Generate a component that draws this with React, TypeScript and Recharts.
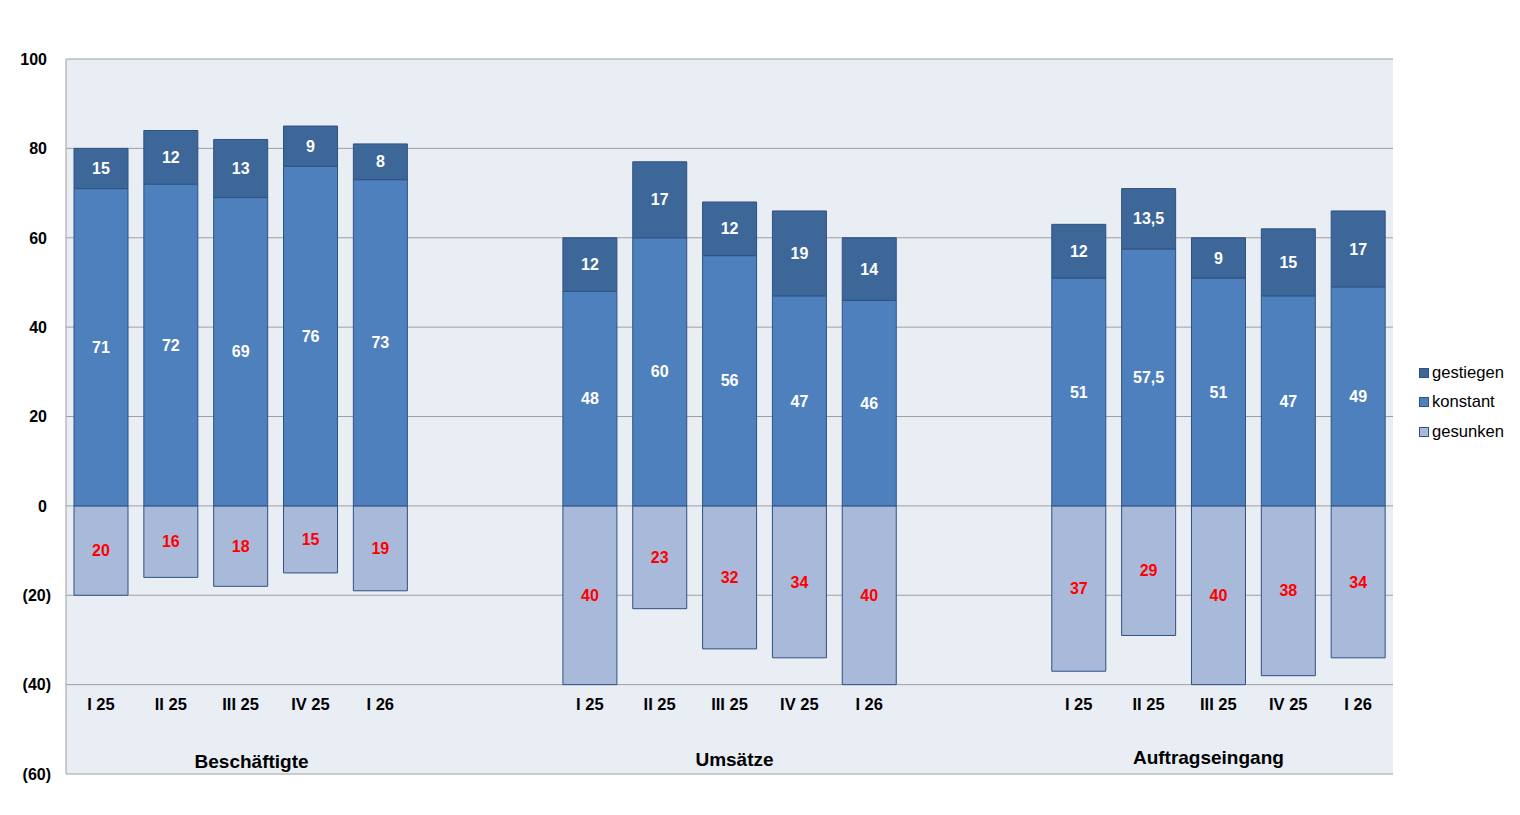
import React from "react";
import { BarChart, Bar, XAxis, YAxis, CartesianGrid, Legend, LabelList } from "recharts";

const periods = ["I 25", "II 25", "III 25", "IV 25", "I 26"];
const groupNames = ["Beschäftigte", "Umsätze", "Auftragseingang"];

// drawn bar heights
const gestiegenValues = [
  [9, 12, 13, 9, 8],
  [12, 17, 12, 19, 14],
  [12, 13.5, 9, 15, 17],
];
// printed labels
const gestiegenLabels = [
  [15, 12, 13, 9, 8],
  [12, 17, 12, 19, 14],
  [12, 13.5, 9, 15, 17],
];
const konstantValues = [
  [71, 72, 69, 76, 73],
  [48, 60, 56, 47, 46],
  [51, 57.5, 51, 47, 49],
];
const gesunkenValues = [
  [20, 16, 18, 15, 19],
  [40, 23, 32, 34, 40],
  [37, 29, 40, 38, 34],
];
const yTicks = [-60, -40, -20, 0, 20, 40, 60, 80, 100];
const gapCount = 2;

const fmt = (v: number) => String(v).replace(".", ",");

type Row = {
  period: string;
  group: number | null;
  gestiegen: number | null;
  konstant: number | null;
  gesunken: number | null;
  gestiegenText: string;
  konstantText: string;
  gesunkenText: string;
};

const rows: Row[] = [];
groupNames.forEach((g, gi) => {
  periods.forEach((p, pi) => {
    rows.push({
      period: p,
      group: pi === 2 ? gi : null,
      gestiegen: gestiegenValues[gi][pi],
      konstant: konstantValues[gi][pi],
      gesunken: -gesunkenValues[gi][pi],
      gestiegenText: fmt(gestiegenLabels[gi][pi]),
      konstantText: fmt(konstantValues[gi][pi]),
      gesunkenText: fmt(gesunkenValues[gi][pi]),
    });
  });
  if (gi < groupNames.length - 1) {
    for (let k = 0; k < gapCount; k++) {
      rows.push({
        period: "",
        group: null,
        gestiegen: null,
        konstant: null,
        gesunken: null,
        gestiegenText: "",
        konstantText: "",
        gesunkenText: "",
      });
    }
  }
});

const FONT = "'Liberation Sans', Arial, sans-serif";
const C_UP = "#3d6699";
const C_SAME = "#4e80bd";
const C_DOWN = "#a9b9d9";
const C_STROKE = "#2f5282";

// fine placement of the group titles (text boxes in the original)
const GROUP_DX = [11, 5, -10];
const GROUP_DY = [-6, -8, -10];

const XTick = (props: any) => {
  const { x, y, index } = props;
  const row = rows[index];
  if (!row) return null;
  return (
    <g>
      {row.period && (
        <text x={x} y={y - 64} textAnchor="middle" fontFamily={FONT} fontWeight="bold" fontSize={16.5} fill="#000">
          {row.period}
        </text>
      )}
      {row.group !== null && (
        <text
          x={x + GROUP_DX[row.group]}
          y={y + GROUP_DY[row.group]}
          textAnchor="middle"
          fontFamily={FONT}
          fontWeight="bold"
          fontSize={19}
          fill="#000"
        >
          {groupNames[row.group]}
        </text>
      )}
    </g>
  );
};

const YTick = (props: any) => {
  const { x, y, payload } = props;
  const v = payload.value as number;
  const neg = v < 0;
  const txt = neg ? `(${Math.abs(v)})` : String(v);
  return (
    <text x={neg ? x - 15 : x - 19} y={y} dy="0.36em" textAnchor="end" fontFamily={FONT} fontWeight="bold" fontSize={16} fill="#000">
      {txt}
    </text>
  );
};

const legendItems = [
  { name: "gestiegen", color: C_UP },
  { name: "konstant", color: C_SAME },
  { name: "gesunken", color: C_DOWN },
];

const LegendContent = () => (
  <div style={{ fontFamily: FONT, fontSize: 16.6, color: "#000" }}>
    {legendItems.map((it) => (
      <div key={it.name} style={{ display: "flex", alignItems: "center", height: 29.5 }}>
        <span
          style={{
            display: "inline-block",
            width: 8,
            height: 8,
            background: it.color,
            border: `1px solid ${C_STROKE}`,
            marginRight: 3,
          }}
        />
        <span>{it.name}</span>
      </div>
    ))}
  </div>
);

export default function App() {
  return (
    <div style={{ position: "absolute", left: 0, top: 0, width: 1520, height: 815, background: "#fff" }}>
      <BarChart
        width={1520}
        height={815}
        data={rows}
        stackOffset="sign"
        margin={{ top: 59, right: 127, bottom: 40, left: 0 }}
        barSize={54}
      >
        <CartesianGrid vertical={false} stroke="#a0a0a0" fill="#e9edf4" />
        <XAxis
          dataKey="period"
          interval={0}
          height={1}
          tickSize={0}
          tickMargin={0}
          axisLine={false}
          tickLine={false}
          tick={<XTick />}
        />
        <YAxis
          width={66}
          domain={[-60, 100]}
          ticks={yTicks}
          type="number"
          allowDataOverflow
          tickSize={0}
          tickMargin={0}
          axisLine={{ stroke: "#a0a0a0" }}
          tickLine={false}
          tick={<YTick />}
        />
        <Legend
          layout="vertical"
          align="center"
          verticalAlign="middle"
          content={<LegendContent />}
          wrapperStyle={{ left: 1419, top: 358, width: 110 }}
        />
        <Bar dataKey="gesunken" stackId="s" fill={C_DOWN} stroke={C_STROKE} strokeWidth={1} isAnimationActive={false}>
          <LabelList dataKey="gesunkenText" position="center" fill="#ff0000" fontFamily={FONT} fontWeight="bold" fontSize={16} />
        </Bar>
        <Bar dataKey="konstant" stackId="s" fill={C_SAME} stroke={C_STROKE} strokeWidth={1} isAnimationActive={false}>
          <LabelList dataKey="konstantText" position="center" fill="#ffffff" fontFamily={FONT} fontWeight="bold" fontSize={16} />
        </Bar>
        <Bar dataKey="gestiegen" stackId="s" fill={C_UP} stroke={C_STROKE} strokeWidth={1} isAnimationActive={false}>
          <LabelList dataKey="gestiegenText" position="center" fill="#ffffff" fontFamily={FONT} fontWeight="bold" fontSize={16} />
        </Bar>
      </BarChart>
    </div>
  );
}
